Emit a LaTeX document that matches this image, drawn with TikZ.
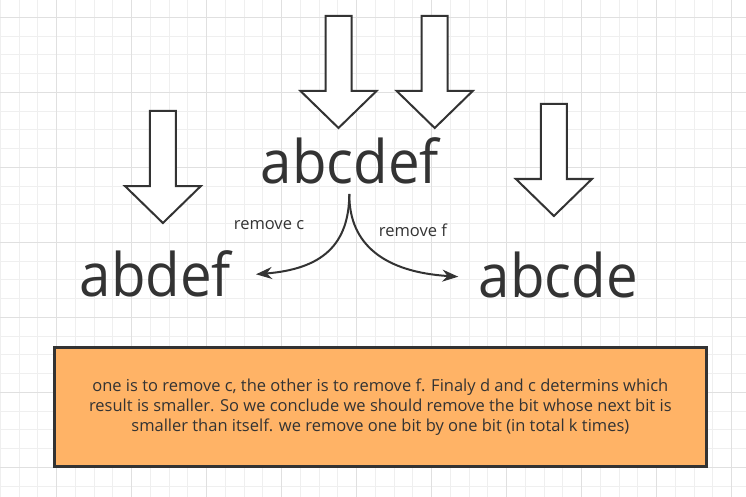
\documentclass[tikz,border=0pt]{standalone}
\usepackage{fontspec}
\setmainfont{Open Sans}
\newfontfamily\bigfont{Open Sans}[FakeStretch=0.94]
\usetikzlibrary{arrows.meta}
\definecolor{ink}{HTML}{333333}
\definecolor{boxfill}{HTML}{FFB366}
\definecolor{gridminor}{HTML}{EFEFEF}
\definecolor{gridmajor}{HTML}{E0E0E0}
\begin{document}
\begin{tikzpicture}[x=1pt,y=-1pt,
  bigtext/.style={font=\bigfont\fontsize{60}{60}\selectfont, text=ink, inner sep=0pt, anchor=base},
  lbl/.style={font=\fontsize{16.5}{16.5}\selectfont, text=ink, inner sep=0pt},
  blockline/.style={draw=ink, line width=2pt, fill=white, line join=miter},
  conn/.style={draw=ink, line width=2pt, -{Stealth[length=16pt,width=12pt]}},
  notebox/.style={draw=ink, line width=2.5pt, fill=boxfill, text=ink, align=center,
    font=\fontsize{16.5}{20}\selectfont, minimum width=652pt, minimum height=119pt, inner sep=0pt},
  downarrow/.pic={\path[blockline] (-13,0) -- (13,0) -- (13,75) -- (38,75) -- (0,112) -- (-38,75) -- (-13,75) -- cycle;}
]
\useasboundingbox (0,0) rectangle (746,497);
\fill[white] (0,0) rectangle (746,497);
\foreach \i in {0,...,39} {\draw[gridminor, line width=1pt] ({0.45+18.75*\i},0) -- ({0.45+18.75*\i},497);}
\foreach \i in {0,...,27} {\draw[gridminor, line width=1pt] (0,{-1.45+18.75*\i}) -- (746,{-1.45+18.75*\i});}
\foreach \i in {0,...,9} {\draw[gridmajor, line width=1pt] ({56.7+75*\i},0) -- ({56.7+75*\i},497);}
\foreach \i in {0,...,6} {\draw[gridmajor, line width=1pt] (0,{17.3+75*\i}) -- (746,{17.3+75*\i});}

\pic (arrA) at (338.5,16) {downarrow};
\pic (arrB) at (434.7,16) {downarrow};
\pic (arrC) at (162.9,111) {downarrow};
\pic (arrD) at (553.9,104) {downarrow};

\node[bigtext] (src) at (350,183) {abcdef};
\node[bigtext] (left) at (155.3,296.7) {abdef};
\node[bigtext] (right) at (558.3,297.3) {abcde};

\coordinate (split) at (349.3,194);
\coordinate (ltip) at (256,274.3);
\coordinate (rtip) at (458.3,276.7);
\draw[conn] (split) .. controls (349,245) and (322,269) .. (ltip);
\draw[conn] (split) .. controls (349,245) and (385,272) .. (rtip);

\node[lbl] (lblc) at (269,225) {remove c};
\node[lbl] (lblf) at (413,230) {remove f};

\node[notebox] (note) at (380.35,407.2) {one is to remove c, the other is to remove f. Finaly d and c determins which\\ result is smaller. So we conclude we should remove the bit whose next bit is\\ smaller than itself. we remove one bit by one bit (in total k times)};
\end{tikzpicture}
\end{document}
